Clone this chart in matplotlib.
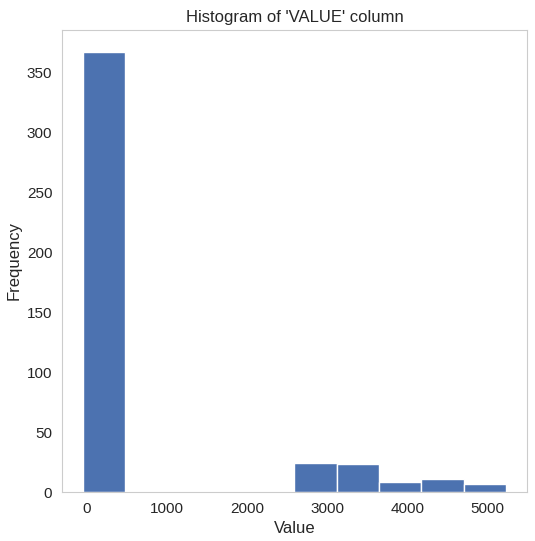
import numpy as np
import matplotlib
matplotlib.use("Agg")
import matplotlib.pyplot as plt
import seaborn as sns

# histogram: 10 bins
bin_edges = np.linspace(-46, 5225, 11)
counts = [367, 0, 0, 0, 0, 24, 23, 8, 11, 7]

sns.set_style("whitegrid")
plt.rcParams['font.family'] = ['Liberation Sans', 'DejaVu Sans']

fig = plt.figure(figsize=(5.35, 5.41), dpi=100)
ax = fig.add_axes([62/535, 1 - 492/541, (527-62)/535, (492-30)/541])
centers = (bin_edges[:-1] + bin_edges[1:]) / 2
ax.hist(centers, bins=bin_edges, weights=counts, color='#4C72B0', edgecolor='white')
ax.grid(False)
ax.set_title("Histogram of 'VALUE' column", fontsize=12)
ax.set_xlabel('Value', fontsize=12)
ax.set_ylabel('Frequency', fontsize=12)
ax.tick_params(labelsize=11)
fig.savefig('out.png', dpi=100)
